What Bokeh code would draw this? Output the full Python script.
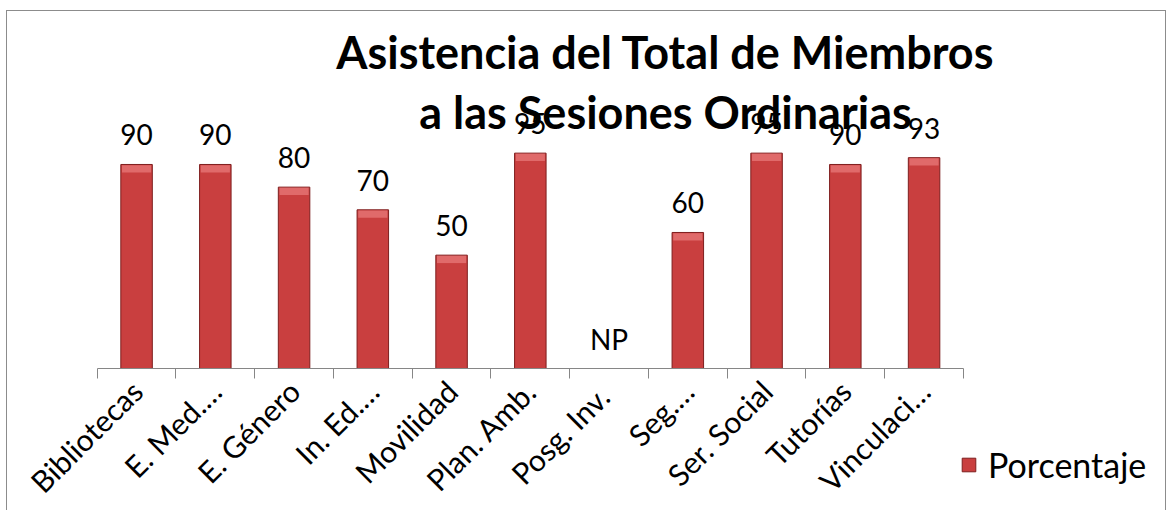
import math
from bokeh.plotting import figure
from bokeh.models import (ColumnDataSource, LabelSet, Label, Range1d, FixedTicker,
                          Legend, LegendItem, CDSView, BooleanFilter)
from bokeh.core.properties import value
from bokeh.embed import file_html
from bokeh.resources import INLINE

# ---- data ----
categories = ["Bibliotecas", "E. Med.…", "E. Género", "In. Ed.…", "Movilidad",
              "Plan. Amb.", "Posg.  Inv.", "Seg.…", "Ser. Social", "Tutorías",
              "Vinculaci…"]
values = [90, 90, 80, 70, 50, 95, 0, 60, 95, 90, 93]
value_labels = ["90", "90", "80", "70", "50", "95", "NP", "60", "95", "90", "93"]
series_name = "Porcentaje"
title_lines = ["Asistencia del Total de Miembros", "a las Sesiones Ordinarias"]

# ---- style / layout (pixels) ----
FONT = "Lato"
BAR = "#C93F3F"
BAR_TOP = "#E06A6A"
BAR_EDGE = "#7E1E1E"
AXIS = "#868686"
W, H = 1160, 500            # canvas size (frame covers all of it)
AXIS_LEFT_PX = 89.7         # left end of category axis, from canvas left
CAT_PX = 78.75              # width of one category
BASE_PX = 357.0             # baseline (value 0), from canvas top
UNIT_PX = 2.267             # pixels per percentage unit
BEVEL = 3.5                 # height of the lighter bar cap, in value units

n = len(categories)
xs = list(range(n))
src = ColumnDataSource(dict(x=xs, value=values, label=value_labels,
                            cap_top=[v - 0.3 for v in values],
                            cap_bottom=[v - BEVEL for v in values]))

x0 = -0.5 - AXIS_LEFT_PX / CAT_PX
x1 = x0 + W / CAT_PX
y1 = BASE_PX / UNIT_PX
y0 = y1 - H / UNIT_PX

p = figure(width=W, height=H, output_backend="svg", toolbar_location=None,
           x_range=Range1d(x0, x1), y_range=Range1d(y0, y1),
           min_border=0, min_border_left=0, min_border_right=0,
           min_border_top=0, min_border_bottom=0, y_axis_location=None,
           background_fill_color="white", border_fill_color="white")
p.styles = {"border": "1px solid #8c8c8c", "border-bottom": "none",
            "margin-left": "6px", "margin-top": "10px"}
p.outline_line_color = None
p.grid.visible = False

bars = p.vbar(x="x", top="value", bottom=0, width=0.4, source=src,
              fill_color=BAR, line_color=BAR_EDGE, line_width=1)
# lighter bevelled cap on each (non-empty) bar
p.vbar(x="x", top="cap_top", bottom="cap_bottom", width=0.37, source=src,
       view=CDSView(filter=BooleanFilter([v > 0 for v in values])),
       fill_color=BAR_TOP, line_color=None)

# x axis: labels at category centres, ticks between categories
ax = p.xaxis[0]
ax.fixed_location = 0
ax.bounds = (-0.5, n - 0.5)
ax.ticker = FixedTicker(ticks=xs, minor_ticks=[x - 0.5 for x in xs] + [xs[-1] + 0.5])
ax.major_label_overrides = {x: c for x, c in zip(xs, categories)}
ax.major_tick_line_color = None
ax.major_tick_in = 0
ax.major_tick_out = 10
ax.minor_tick_in = 0
ax.minor_tick_out = 10
ax.minor_tick_line_color = AXIS
ax.axis_line_color = AXIS
ax.major_label_orientation = math.pi / 4
ax.major_label_text_font = FONT
ax.major_label_text_font_size = "30px"
ax.major_label_text_color = "black"
ax.major_label_standoff = 7

# data labels
p.add_layout(LabelSet(x="x", y="value", text="label", source=src, y_offset=19,
                      text_align="center", text_baseline="alphabetic",
                      text_font=value(FONT), text_font_size=value("28px"),
                      text_color="black"))

# title (two lines), positioned in screen pixels from the frame's bottom-left
for i, line in enumerate(title_lines):
    p.add_layout(Label(x=658, y=460 - 60 * i, x_units="screen", y_units="screen",
                       text=line, text_align="center", text_baseline="alphabetic",
                       text_font=FONT, text_font_style="bold", text_font_size="45px",
                       text_color="black"))

legend = Legend(items=[LegendItem(label=series_name, renderers=[bars])],
                location=(953, 26), orientation="vertical",
                glyph_width=17, glyph_height=17, label_standoff=11,
                label_text_font=FONT, label_text_font_size="34px",
                label_text_color="black",
                padding=0, margin=0, spacing=0,
                border_line_color=None, background_fill_alpha=0)
p.add_layout(legend, "center")

open("out.html", "w").write(file_html(p, INLINE))
